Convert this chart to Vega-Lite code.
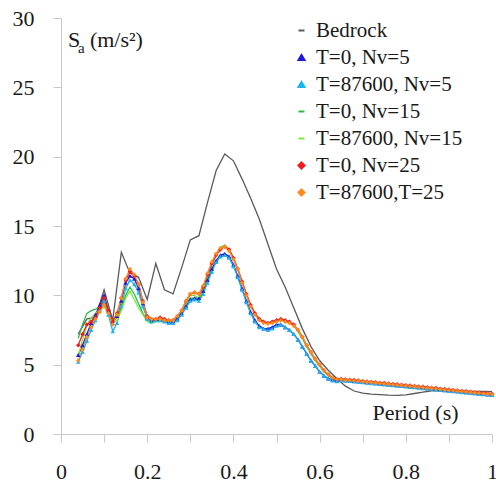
{
  "$schema": "https://vega.github.io/schema/vega-lite/v6.json",
  "width": 431,
  "height": 416,
  "autosize": "none",
  "padding": {"left": 61, "top": 18, "right": 4, "bottom": 53},
  "datasets": {
    "series": [
      {"key": "n5a", "name": "T=0, Nv=5"},
      {"key": "n5b", "name": "T=87600, Nv=5"},
      {"key": "n15a", "name": "T=0, Nv=15"},
      {"key": "n15b", "name": "T=87600, Nv=15"},
      {"key": "n25a", "name": "T=0, Nv=25"},
      {"key": "n25b", "name": "T=87600,T=25"}
    ],
    "bedrock": [
      {"T": 0.04, "Sa": 7.2}, {"T": 0.06, "Sa": 8.3}, {"T": 0.08, "Sa": 8.4},
      {"T": 0.10, "Sa": 10.4}, {"T": 0.12, "Sa": 8.2}, {"T": 0.14, "Sa": 13.1},
      {"T": 0.16, "Sa": 11.6}, {"T": 0.18, "Sa": 11.3}, {"T": 0.20, "Sa": 9.7},
      {"T": 0.22, "Sa": 12.3}, {"T": 0.24, "Sa": 10.4}, {"T": 0.26, "Sa": 10.1},
      {"T": 0.28, "Sa": 12.0}, {"T": 0.30, "Sa": 14.0}, {"T": 0.32, "Sa": 14.3},
      {"T": 0.34, "Sa": 16.7}, {"T": 0.36, "Sa": 19.0}, {"T": 0.38, "Sa": 20.2},
      {"T": 0.40, "Sa": 19.7}, {"T": 0.42, "Sa": 18.4}, {"T": 0.44, "Sa": 17.0},
      {"T": 0.46, "Sa": 15.5}, {"T": 0.48, "Sa": 13.7}, {"T": 0.50, "Sa": 11.9},
      {"T": 0.52, "Sa": 10.6}, {"T": 0.54, "Sa": 9.1}, {"T": 0.56, "Sa": 7.6},
      {"T": 0.58, "Sa": 6.3}, {"T": 0.60, "Sa": 5.3}, {"T": 0.62, "Sa": 4.6},
      {"T": 0.64, "Sa": 4.0}, {"T": 0.66, "Sa": 3.45}, {"T": 0.68, "Sa": 3.1},
      {"T": 0.70, "Sa": 2.95}, {"T": 0.72, "Sa": 2.88}, {"T": 0.74, "Sa": 2.84},
      {"T": 0.76, "Sa": 2.8}, {"T": 0.78, "Sa": 2.78}, {"T": 0.80, "Sa": 2.82},
      {"T": 0.82, "Sa": 2.92}, {"T": 0.84, "Sa": 3.02}, {"T": 0.86, "Sa": 3.12},
      {"T": 0.88, "Sa": 3.12}, {"T": 0.90, "Sa": 3.11}, {"T": 0.92, "Sa": 3.1},
      {"T": 0.94, "Sa": 3.09}, {"T": 0.96, "Sa": 3.08}, {"T": 0.98, "Sa": 3.07},
      {"T": 1.00, "Sa": 3.05}
    ],
    "sites": [
      {"T": 0.04, "n5a": 5.7, "n5b": 5.2, "n15a": 6.9, "n15b": 5.6, "n25a": 6.4, "n25b": 5.3},
      {"T": 0.05, "n5a": 6.4, "n5b": 5.9, "n15a": 7.9, "n15b": 6.8, "n25a": 7.2, "n25b": 6.1},
      {"T": 0.06, "n5a": 7.2, "n5b": 6.7, "n15a": 8.7, "n15b": 7.8, "n25a": 7.9, "n25b": 7.0},
      {"T": 0.07, "n5a": 8.0, "n5b": 7.5, "n15a": 8.9, "n15b": 8.4, "n25a": 8.1, "n25b": 7.7},
      {"T": 0.08, "n5a": 8.6, "n5b": 8.2, "n15a": 9.0, "n15b": 8.7, "n25a": 8.4, "n25b": 8.3},
      {"T": 0.09, "n5a": 9.3, "n5b": 8.9, "n15a": 9.2, "n15b": 9.0, "n25a": 9.1, "n25b": 8.8},
      {"T": 0.10, "n5a": 10.0, "n5b": 9.6, "n15a": 9.5, "n15b": 9.2, "n25a": 9.8, "n25b": 9.3},
      {"T": 0.11, "n5a": 8.9, "n5b": 8.6, "n15a": 8.7, "n15b": 8.6, "n25a": 8.9, "n25b": 8.7},
      {"T": 0.12, "n5a": 8.0, "n5b": 7.4, "n15a": 8.2, "n15b": 8.0, "n25a": 8.1, "n25b": 7.9},
      {"T": 0.13, "n5a": 8.5, "n5b": 8.0, "n15a": 8.4, "n15b": 8.2, "n25a": 8.7, "n25b": 8.6},
      {"T": 0.14, "n5a": 9.6, "n5b": 9.2, "n15a": 9.1, "n15b": 8.9, "n25a": 9.8, "n25b": 9.8},
      {"T": 0.15, "n5a": 10.9, "n5b": 10.5, "n15a": 10.0, "n15b": 9.8, "n25a": 11.1, "n25b": 11.2},
      {"T": 0.16, "n5a": 11.4, "n5b": 11.1, "n15a": 10.6, "n15b": 10.3, "n25a": 11.7, "n25b": 11.9},
      {"T": 0.17, "n5a": 11.2, "n5b": 10.8, "n15a": 10.1, "n15b": 9.7, "n25a": 11.4, "n25b": 11.5},
      {"T": 0.18, "n5a": 10.5, "n5b": 10.2, "n15a": 9.4, "n15b": 9.1, "n25a": 10.8, "n25b": 10.8},
      {"T": 0.19, "n5a": 9.4, "n5b": 9.2, "n15a": 8.7, "n15b": 8.6, "n25a": 9.6, "n25b": 9.5},
      {"T": 0.20, "n5a": 8.4, "n5b": 8.3, "n15a": 8.2, "n15b": 8.1, "n25a": 8.5, "n25b": 8.4},
      {"T": 0.21, "n5a": 8.2, "n5b": 8.1, "n15a": 8.1, "n15b": 8.0, "n25a": 8.3, "n25b": 8.3},
      {"T": 0.22, "n5a": 8.3, "n5b": 8.2, "n15a": 8.2, "n15b": 8.1, "n25a": 8.3, "n25b": 8.3},
      {"T": 0.23, "n5a": 8.3, "n5b": 8.2, "n15a": 8.2, "n15b": 8.1, "n25a": 8.4, "n25b": 8.3},
      {"T": 0.24, "n5a": 8.2, "n5b": 8.1, "n15a": 8.2, "n15b": 8.1, "n25a": 8.3, "n25b": 8.2},
      {"T": 0.25, "n5a": 8.1, "n5b": 8.0, "n15a": 8.1, "n15b": 8.1, "n25a": 8.2, "n25b": 8.2},
      {"T": 0.26, "n5a": 8.1, "n5b": 8.0, "n15a": 8.2, "n15b": 8.2, "n25a": 8.2, "n25b": 8.2},
      {"T": 0.27, "n5a": 8.3, "n5b": 8.2, "n15a": 8.4, "n15b": 8.5, "n25a": 8.5, "n25b": 8.5},
      {"T": 0.28, "n5a": 8.7, "n5b": 8.6, "n15a": 8.8, "n15b": 8.9, "n25a": 8.9, "n25b": 8.9},
      {"T": 0.29, "n5a": 9.2, "n5b": 9.1, "n15a": 9.4, "n15b": 9.5, "n25a": 9.6, "n25b": 9.6},
      {"T": 0.30, "n5a": 9.7, "n5b": 9.6, "n15a": 9.8, "n15b": 10.0, "n25a": 10.1, "n25b": 10.1},
      {"T": 0.31, "n5a": 9.8, "n5b": 9.7, "n15a": 9.8, "n15b": 10.0, "n25a": 10.2, "n25b": 10.2},
      {"T": 0.32, "n5a": 9.8, "n5b": 9.6, "n15a": 9.6, "n15b": 9.8, "n25a": 10.1, "n25b": 10.1},
      {"T": 0.33, "n5a": 10.3, "n5b": 10.1, "n15a": 10.3, "n15b": 10.5, "n25a": 10.6, "n25b": 10.7},
      {"T": 0.34, "n5a": 11.1, "n5b": 10.9, "n15a": 11.3, "n15b": 11.5, "n25a": 11.5, "n25b": 11.6},
      {"T": 0.35, "n5a": 11.9, "n5b": 11.7, "n15a": 12.2, "n15b": 12.4, "n25a": 12.3, "n25b": 12.4},
      {"T": 0.36, "n5a": 12.5, "n5b": 12.4, "n15a": 12.9, "n15b": 13.0, "n25a": 12.9, "n25b": 13.0},
      {"T": 0.37, "n5a": 12.9, "n5b": 12.8, "n15a": 13.4, "n15b": 13.5, "n25a": 13.3, "n25b": 13.4},
      {"T": 0.38, "n5a": 13.0, "n5b": 12.9, "n15a": 13.6, "n15b": 13.6, "n25a": 13.5, "n25b": 13.5},
      {"T": 0.39, "n5a": 12.8, "n5b": 12.7, "n15a": 13.3, "n15b": 13.3, "n25a": 13.3, "n25b": 13.2},
      {"T": 0.40, "n5a": 12.2, "n5b": 12.1, "n15a": 12.7, "n15b": 12.7, "n25a": 12.7, "n25b": 12.6},
      {"T": 0.41, "n5a": 11.4, "n5b": 11.3, "n15a": 11.9, "n15b": 11.9, "n25a": 11.9, "n25b": 11.9},
      {"T": 0.42, "n5a": 10.5, "n5b": 10.4, "n15a": 11.0, "n15b": 11.0, "n25a": 11.0, "n25b": 10.9},
      {"T": 0.43, "n5a": 9.6, "n5b": 9.5, "n15a": 10.1, "n15b": 10.1, "n25a": 10.1, "n25b": 10.0},
      {"T": 0.44, "n5a": 8.8, "n5b": 8.7, "n15a": 9.3, "n15b": 9.3, "n25a": 9.3, "n25b": 9.2},
      {"T": 0.45, "n5a": 8.2, "n5b": 8.1, "n15a": 8.7, "n15b": 8.7, "n25a": 8.7, "n25b": 8.6},
      {"T": 0.46, "n5a": 7.8, "n5b": 7.7, "n15a": 8.3, "n15b": 8.3, "n25a": 8.3, "n25b": 8.2},
      {"T": 0.47, "n5a": 7.6, "n5b": 7.6, "n15a": 8.1, "n15b": 8.1, "n25a": 8.1, "n25b": 8.0},
      {"T": 0.48, "n5a": 7.6, "n5b": 7.5, "n15a": 8.0, "n15b": 8.0, "n25a": 8.0, "n25b": 7.95},
      {"T": 0.49, "n5a": 7.7, "n5b": 7.6, "n15a": 8.1, "n15b": 8.1, "n25a": 8.1, "n25b": 8.0},
      {"T": 0.50, "n5a": 7.9, "n5b": 7.8, "n15a": 8.2, "n15b": 8.2, "n25a": 8.2, "n25b": 8.1},
      {"T": 0.51, "n5a": 7.9, "n5b": 7.9, "n15a": 8.3, "n15b": 8.3, "n25a": 8.3, "n25b": 8.2},
      {"T": 0.52, "n5a": 7.7, "n5b": 7.7, "n15a": 8.2, "n15b": 8.2, "n25a": 8.2, "n25b": 8.1},
      {"T": 0.53, "n5a": 7.5, "n5b": 7.5, "n15a": 8.0, "n15b": 8.0, "n25a": 8.1, "n25b": 8.0},
      {"T": 0.54, "n5a": 7.2, "n5b": 7.2, "n15a": 7.8, "n15b": 7.8, "n25a": 7.9, "n25b": 7.8},
      {"T": 0.55, "n5a": 6.8, "n5b": 6.8, "n15a": 7.4, "n15b": 7.4, "n25a": 7.5, "n25b": 7.5},
      {"T": 0.56, "n5a": 6.3, "n5b": 6.3, "n15a": 6.9, "n15b": 6.9, "n25a": 7.0, "n25b": 7.0},
      {"T": 0.57, "n5a": 5.8, "n5b": 5.8, "n15a": 6.3, "n15b": 6.3, "n25a": 6.4, "n25b": 6.4},
      {"T": 0.58, "n5a": 5.3, "n5b": 5.3, "n15a": 5.8, "n15b": 5.8, "n25a": 5.9, "n25b": 5.9},
      {"T": 0.59, "n5a": 4.9, "n5b": 4.9, "n15a": 5.3, "n15b": 5.3, "n25a": 5.4, "n25b": 5.4},
      {"T": 0.60, "n5a": 4.5, "n5b": 4.5, "n15a": 4.9, "n15b": 4.9, "n25a": 5.0, "n25b": 5.0},
      {"T": 0.61, "n5a": 4.2, "n5b": 4.2, "n15a": 4.5, "n15b": 4.5, "n25a": 4.6, "n25b": 4.6},
      {"T": 0.62, "n5a": 4.0, "n5b": 4.0, "n15a": 4.2, "n15b": 4.2, "n25a": 4.3, "n25b": 4.3},
      {"T": 0.63, "n5a": 3.9, "n5b": 3.85, "n15a": 4.0, "n15b": 4.0, "n25a": 4.05, "n25b": 4.05},
      {"T": 0.64, "n5a": 3.85, "n5b": 3.8, "n15a": 3.95, "n15b": 3.95, "n25a": 3.95, "n25b": 3.95},
      {"T": 0.65, "n5a": 3.90, "n5b": 3.87, "n15a": 3.95, "n15b": 3.96, "n25a": 3.97, "n25b": 3.93},
      {"T": 0.66, "n5a": 3.87, "n5b": 3.84, "n15a": 3.92, "n15b": 3.93, "n25a": 3.94, "n25b": 3.90},
      {"T": 0.67, "n5a": 3.85, "n5b": 3.82, "n15a": 3.90, "n15b": 3.91, "n25a": 3.92, "n25b": 3.88},
      {"T": 0.68, "n5a": 3.82, "n5b": 3.79, "n15a": 3.87, "n15b": 3.88, "n25a": 3.89, "n25b": 3.85},
      {"T": 0.69, "n5a": 3.79, "n5b": 3.76, "n15a": 3.84, "n15b": 3.85, "n25a": 3.86, "n25b": 3.82},
      {"T": 0.70, "n5a": 3.75, "n5b": 3.72, "n15a": 3.80, "n15b": 3.81, "n25a": 3.82, "n25b": 3.78},
      {"T": 0.71, "n5a": 3.72, "n5b": 3.69, "n15a": 3.77, "n15b": 3.78, "n25a": 3.79, "n25b": 3.75},
      {"T": 0.72, "n5a": 3.69, "n5b": 3.66, "n15a": 3.74, "n15b": 3.75, "n25a": 3.76, "n25b": 3.72},
      {"T": 0.73, "n5a": 3.66, "n5b": 3.63, "n15a": 3.71, "n15b": 3.72, "n25a": 3.73, "n25b": 3.69},
      {"T": 0.74, "n5a": 3.63, "n5b": 3.60, "n15a": 3.68, "n15b": 3.69, "n25a": 3.70, "n25b": 3.66},
      {"T": 0.75, "n5a": 3.60, "n5b": 3.57, "n15a": 3.65, "n15b": 3.66, "n25a": 3.67, "n25b": 3.63},
      {"T": 0.76, "n5a": 3.57, "n5b": 3.54, "n15a": 3.62, "n15b": 3.63, "n25a": 3.64, "n25b": 3.60},
      {"T": 0.77, "n5a": 3.54, "n5b": 3.51, "n15a": 3.59, "n15b": 3.60, "n25a": 3.61, "n25b": 3.57},
      {"T": 0.78, "n5a": 3.51, "n5b": 3.48, "n15a": 3.56, "n15b": 3.57, "n25a": 3.58, "n25b": 3.54},
      {"T": 0.79, "n5a": 3.48, "n5b": 3.45, "n15a": 3.53, "n15b": 3.54, "n25a": 3.55, "n25b": 3.51},
      {"T": 0.80, "n5a": 3.45, "n5b": 3.42, "n15a": 3.50, "n15b": 3.51, "n25a": 3.52, "n25b": 3.48},
      {"T": 0.81, "n5a": 3.42, "n5b": 3.39, "n15a": 3.47, "n15b": 3.48, "n25a": 3.49, "n25b": 3.45},
      {"T": 0.82, "n5a": 3.39, "n5b": 3.36, "n15a": 3.44, "n15b": 3.45, "n25a": 3.46, "n25b": 3.42},
      {"T": 0.83, "n5a": 3.36, "n5b": 3.33, "n15a": 3.41, "n15b": 3.42, "n25a": 3.43, "n25b": 3.39},
      {"T": 0.84, "n5a": 3.33, "n5b": 3.30, "n15a": 3.38, "n15b": 3.39, "n25a": 3.40, "n25b": 3.36},
      {"T": 0.85, "n5a": 3.30, "n5b": 3.27, "n15a": 3.35, "n15b": 3.36, "n25a": 3.37, "n25b": 3.33},
      {"T": 0.86, "n5a": 3.27, "n5b": 3.24, "n15a": 3.32, "n15b": 3.33, "n25a": 3.34, "n25b": 3.30},
      {"T": 0.87, "n5a": 3.24, "n5b": 3.21, "n15a": 3.29, "n15b": 3.30, "n25a": 3.31, "n25b": 3.27},
      {"T": 0.88, "n5a": 3.20, "n5b": 3.17, "n15a": 3.25, "n15b": 3.26, "n25a": 3.27, "n25b": 3.23},
      {"T": 0.89, "n5a": 3.17, "n5b": 3.14, "n15a": 3.22, "n15b": 3.23, "n25a": 3.24, "n25b": 3.20},
      {"T": 0.90, "n5a": 3.14, "n5b": 3.11, "n15a": 3.19, "n15b": 3.20, "n25a": 3.21, "n25b": 3.17},
      {"T": 0.91, "n5a": 3.11, "n5b": 3.08, "n15a": 3.16, "n15b": 3.17, "n25a": 3.18, "n25b": 3.14},
      {"T": 0.92, "n5a": 3.07, "n5b": 3.04, "n15a": 3.12, "n15b": 3.13, "n25a": 3.14, "n25b": 3.10},
      {"T": 0.93, "n5a": 3.04, "n5b": 3.01, "n15a": 3.09, "n15b": 3.10, "n25a": 3.11, "n25b": 3.07},
      {"T": 0.94, "n5a": 3.01, "n5b": 2.98, "n15a": 3.06, "n15b": 3.07, "n25a": 3.08, "n25b": 3.04},
      {"T": 0.95, "n5a": 2.98, "n5b": 2.95, "n15a": 3.03, "n15b": 3.04, "n25a": 3.05, "n25b": 3.01},
      {"T": 0.96, "n5a": 2.95, "n5b": 2.92, "n15a": 3.00, "n15b": 3.01, "n25a": 3.02, "n25b": 2.98},
      {"T": 0.97, "n5a": 2.92, "n5b": 2.89, "n15a": 2.97, "n15b": 2.98, "n25a": 2.99, "n25b": 2.95},
      {"T": 0.98, "n5a": 2.89, "n5b": 2.86, "n15a": 2.94, "n15b": 2.95, "n25a": 2.96, "n25b": 2.92},
      {"T": 0.99, "n5a": 2.86, "n5b": 2.83, "n15a": 2.91, "n15b": 2.92, "n25a": 2.93, "n25b": 2.89},
      {"T": 1.00, "n5a": 2.83, "n5b": 2.80, "n15a": 2.88, "n15b": 2.89, "n25a": 2.90, "n25b": 2.86}
    ]
  },
  "layer": [
    {
      "data": {"name": "bedrock"},
      "mark": {"type": "line", "strokeWidth": 1.3},
      "encoding": {
        "x": {
          "field": "T",
          "type": "quantitative",
          "scale": {"domain": [0, 1], "nice": false},
          "axis": {
            "values": [0, 0.1, 0.2, 0.3, 0.4, 0.5, 0.6, 0.7, 0.8, 0.9, 1],
            "format": "~g",
            "labelExpr": "round(datum.value * 10) % 2 == 0 ? datum.label : ''",
            "labelFlush": false,
            "labelOverlap": false
          }
        },
        "y": {
          "field": "Sa",
          "type": "quantitative",
          "scale": {"domain": [0, 30], "nice": false},
          "axis": {
            "values": [0, 2.5, 5, 7.5, 10, 12.5, 15, 17.5, 20, 22.5, 25, 27.5, 30],
            "labelExpr": "datum.value % 5 == 0 ? datum.label : ''",
            "labelOverlap": false
          }
        },
        "color": {
          "datum": "Bedrock",
          "type": "nominal",
          "scale": {
            "domain": ["Bedrock", "T=0, Nv=5", "T=87600, Nv=5", "T=0, Nv=15", "T=87600, Nv=15", "T=0, Nv=25", "T=87600,T=25"],
            "range": ["#5a5a5a", "#1c1cd8", "#1ab4f0", "#2eb84a", "#7ae83a", "#ee1c1c", "#ff8a24"]
          },
          "legend": {
            "encode": {
              "symbols": {"update": {"stroke": {"scale": "color", "field": "value"}, "strokeWidth": {"value": 2}}}
            }
          }
        }
      }
    },
    {
      "data": {"name": "sites"},
      "transform": [
        {"fold": ["n5a", "n5b", "n15a", "n15b", "n25a", "n25b"], "as": ["key", "Sa"]},
        {"lookup": "key", "from": {"data": {"name": "series"}, "key": "key", "fields": ["name"]}}
      ],
      "encoding": {
        "x": {"field": "T", "type": "quantitative"},
        "y": {"field": "Sa", "type": "quantitative"},
        "color": {"field": "name", "type": "nominal"}
      },
      "layer": [
        {
          "mark": {"type": "line", "strokeWidth": 1.3},
          "encoding": {"detail": {"field": "key"}}
        },
        {
          "mark": {"type": "point", "filled": true, "opacity": 1, "size": 20},
          "encoding": {
            "shape": {
              "field": "name",
              "type": "nominal",
              "scale": {
                "domain": ["Bedrock", "T=0, Nv=5", "T=87600, Nv=5", "T=0, Nv=15", "T=87600, Nv=15", "T=0, Nv=25", "T=87600,T=25"],
                "range": ["stroke", "triangle-up", "triangle-up", "stroke", "stroke", "diamond", "diamond"]
              }
            }
          }
        }
      ]
    },
    {
      "data": {"values": [{"label": "S"}]},
      "mark": {"type": "text", "fontSize": 22, "color": "#1a1a1a", "align": "left", "baseline": "alphabetic"},
      "encoding": {
        "x": {"datum": 0.016, "type": "quantitative"},
        "y": {"datum": 27.9, "type": "quantitative"},
        "text": {"field": "label"}
      }
    },
    {
      "data": {"values": [{"label": "a"}]},
      "mark": {"type": "text", "fontSize": 15, "color": "#1a1a1a", "align": "left", "baseline": "alphabetic", "dx": 10, "dy": 6},
      "encoding": {
        "x": {"datum": 0.016, "type": "quantitative"},
        "y": {"datum": 27.9, "type": "quantitative"},
        "text": {"field": "label"}
      }
    },
    {
      "data": {"values": [{"label": "(m/s²)"}]},
      "mark": {"type": "text", "fontSize": 22, "color": "#1a1a1a", "align": "left", "baseline": "alphabetic", "dx": 22},
      "encoding": {
        "x": {"datum": 0.016, "type": "quantitative"},
        "y": {"datum": 27.9, "type": "quantitative"},
        "text": {"field": "label"}
      }
    },
    {
      "data": {"values": [{"label": "Period (s)"}]},
      "mark": {"type": "text", "fontSize": 22, "color": "#1a1a1a", "align": "center", "baseline": "alphabetic"},
      "encoding": {
        "x": {"datum": 0.8225, "type": "quantitative"},
        "y": {"datum": 1.0, "type": "quantitative"},
        "text": {"field": "label"}
      }
    }
  ],
  "config": {
    "view": {"stroke": null},
    "font": "Liberation Serif",
    "text": {"font": "Liberation Serif"},
    "axis": {
      "grid": false,
      "domainColor": "#c8c8c8",
      "tickColor": "#c8c8c8",
      "tickSize": 8,
      "labelFont": "Liberation Serif",
      "labelFontSize": 22,
      "labelColor": "#1a1a1a",
      "labelPadding": 19,
      "title": null
    },
    "legend": {
      "orient": "none",
      "legendX": 230,
      "legendY": 2,
      "title": null,
      "labelFont": "Liberation Serif",
      "labelFontSize": 21,
      "labelColor": "#1a1a1a",
      "labelOffset": 4,
      "rowPadding": 5,
      "symbolSize": 36,
      "symbolStrokeWidth": 2
    }
  }
}
